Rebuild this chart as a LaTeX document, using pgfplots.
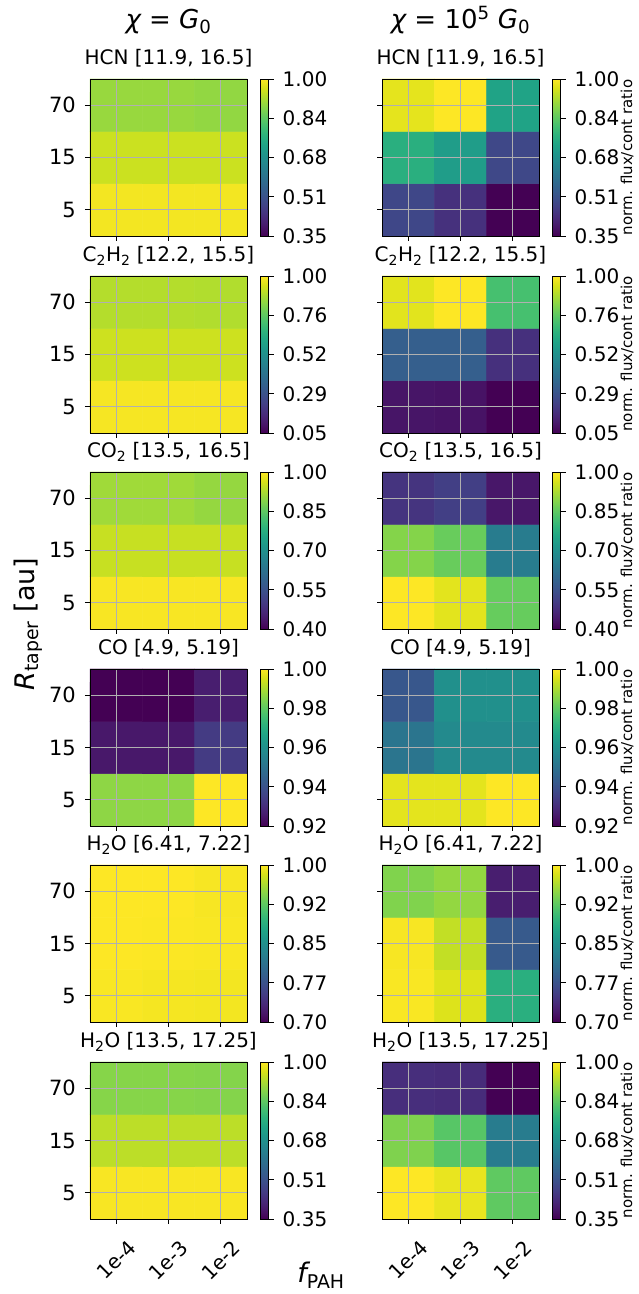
\documentclass[border=0pt]{standalone}
\usepackage{fontspec}
\setmainfont{DejaVu Sans}
\usepackage{pgfplots}
\pgfplotsset{compat=1.18}
\definecolor{gridgray}{HTML}{B0B0B0}
\newcommand{\fs}[1]{\fontsize{#1}{#1}\selectfont}
\pgfplotsset{
  hm/.style={
    scale only axis, width=157pt, height=157pt,
    anchor=north west,
    xmin=-0.5, xmax=2.5, ymin=-0.5, ymax=2.5,
    xtick={0,1,2}, ytick={0,1,2},
    xticklabels={}, yticklabels={},
    grid=major, grid style={gridgray, line width=0.9pt},
    axis on top,
    tick align=outside, xtick pos=bottom, ytick pos=left,
    major tick length=5pt,
    every tick/.style={black, line width=0.9pt},
    axis line style={line width=0.9pt},
    colormap/viridis,
    title style={at={(0.5,1)}, anchor=base, yshift=8pt, font=\fs{20}, inner sep=0pt},
    yticklabel style={font=\fs{21}, anchor=east, inner sep=0pt, xshift=-9pt},
    xticklabel style={font=\fs{20}, yshift=-36pt, rotate=45, anchor=center, inner sep=0pt},
    colorbar,
    colorbar style={
      width=8.5pt, at={(parent axis.north east)}, anchor=north west, xshift=4.5pt,
      tick align=outside, major tick length=5pt, ytick pos=right,
      every tick/.style={black, line width=0.9pt},
      yticklabel style={font=\fs{20}, anchor=west, inner sep=0pt, xshift=9pt},
      axis line style={line width=0.9pt},
    },
  },
  lft/.style={yticklabels={5,15,70}},
  bot/.style={xticklabels={1e-4,1e-3,1e-2}},
  rA/.style={point meta min=0.35, point meta max=1, colorbar style={ytick={0.35,0.5125,0.675,0.8375,1}, yticklabels={0.35,0.51,0.68,0.84,1.00}}},
  rB/.style={point meta min=0.05, point meta max=1, colorbar style={ytick={0.05,0.2875,0.525,0.7625,1}, yticklabels={0.05,0.29,0.52,0.76,1.00}}},
  rC/.style={point meta min=0.40, point meta max=1, colorbar style={ytick={0.40,0.55,0.70,0.85,1}, yticklabels={0.40,0.55,0.70,0.85,1.00}}},
  rD/.style={point meta min=0.92, point meta max=1, colorbar style={ytick={0.92,0.94,0.96,0.98,1}, yticklabels={0.92,0.94,0.96,0.98,1.00}}},
  rE/.style={point meta min=0.70, point meta max=1, colorbar style={ytick={0.70,0.775,0.85,0.925,1}, yticklabels={0.70,0.77,0.85,0.92,1.00}}},
}
\newcommand{\panel}[5]{%
\begin{axis}[hm, at={(#1pt,#2pt)}, title={#3}, #4]
\addplot[matrix plot*, mesh/cols=3, point meta=explicit] table[meta=c, row sep=\\] {#5};
\end{axis}}
\begin{document}
\begin{tikzpicture}
\useasboundingbox (0,0) rectangle (638pt,1294pt);
% row 1: HCN
\panel{90}{1215}{HCN [11.9, 16.5]}{lft, rA}{x y c\\ 0 0 0.99\\ 1 0 0.99\\ 2 0 0.99\\ 0 1 0.95\\ 1 1 0.95\\ 2 1 0.95\\ 0 2 0.90\\ 1 2 0.90\\ 2 2 0.895\\}
\panel{382}{1215}{HCN [11.9, 16.5]}{rA}{x y c\\ 0 0 0.487\\ 1 0 0.44\\ 2 0 0.35\\ 0 1 0.76\\ 1 1 0.71\\ 2 1 0.49\\ 0 2 0.975\\ 1 2 1.00\\ 2 2 0.727\\}
% row 2: C2H2
\panel{90}{1018}{C\textsubscript{2}H\textsubscript{2} [12.2, 15.5]}{lft, rB}{x y c\\ 0 0 0.99\\ 1 0 0.99\\ 2 0 0.99\\ 0 1 0.93\\ 1 1 0.93\\ 2 1 0.93\\ 0 2 0.895\\ 1 2 0.895\\ 2 2 0.89\\}
\panel{382}{1018}{C\textsubscript{2}H\textsubscript{2} [12.2, 15.5]}{rB}{x y c\\ 0 0 0.10\\ 1 0 0.095\\ 2 0 0.05\\ 0 1 0.335\\ 1 1 0.335\\ 2 1 0.18\\ 0 2 0.96\\ 1 2 1.00\\ 2 2 0.72\\}
% row 3: CO2
\panel{90}{822}{CO\textsubscript{2} [13.5, 16.5]}{lft, rC}{x y c\\ 0 0 0.995\\ 1 0 0.995\\ 2 0 0.995\\ 0 1 0.95\\ 1 1 0.95\\ 2 1 0.95\\ 0 2 0.915\\ 1 2 0.915\\ 2 2 0.905\\}
\panel{382}{822}{CO\textsubscript{2} [13.5, 16.5]}{rC}{x y c\\ 0 0 1.00\\ 1 0 0.975\\ 2 0 0.86\\ 0 1 0.89\\ 1 1 0.862\\ 2 1 0.65\\ 0 2 0.49\\ 1 2 0.51\\ 2 2 0.435\\}
% row 4: CO
\panel{90}{625}{CO [4.9, 5.19]}{lft, rD}{x y c\\ 0 0 0.9865\\ 1 0 0.9865\\ 2 0 1.00\\ 0 1 0.925\\ 1 1 0.925\\ 2 1 0.9336\\ 0 2 0.920\\ 1 2 0.920\\ 2 2 0.9265\\}
\panel{382}{625}{CO [4.9, 5.19]}{rD}{x y c\\ 0 0 0.9968\\ 1 0 0.9968\\ 2 0 1.00\\ 0 1 0.951\\ 1 1 0.958\\ 2 1 0.958\\ 0 2 0.9416\\ 1 2 0.960\\ 2 2 0.960\\}
% row 5: H2O short
\panel{90}{429}{H\textsubscript{2}O [6.41, 7.22]}{lft, rE}{x y c\\ 0 0 0.998\\ 1 0 0.996\\ 2 0 0.995\\ 0 1 1.00\\ 1 1 0.999\\ 2 1 0.998\\ 0 2 1.00\\ 1 2 1.00\\ 2 2 0.997\\}
\panel{382}{429}{H\textsubscript{2}O [6.41, 7.22]}{rE}{x y c\\ 0 0 0.998\\ 1 0 0.985\\ 2 0 0.889\\ 0 1 0.997\\ 1 1 0.973\\ 2 1 0.784\\ 0 2 0.943\\ 1 2 0.952\\ 2 2 0.724\\}
% row 6: H2O long
\panel{90}{232}{H\textsubscript{2}O [13.5, 17.25]}{lft, bot, rA}{x y c\\ 0 0 0.995\\ 1 0 0.995\\ 2 0 0.995\\ 0 1 0.935\\ 1 1 0.935\\ 2 1 0.935\\ 0 2 0.883\\ 1 2 0.883\\ 2 2 0.88\\}
\panel{382}{232}{H\textsubscript{2}O [13.5, 17.25]}{bot, rA}{x y c\\ 0 0 1.00\\ 1 0 0.98\\ 2 0 0.84\\ 0 1 0.875\\ 1 1 0.83\\ 2 1 0.62\\ 0 2 0.435\\ 1 2 0.43\\ 2 2 0.35\\}
% column titles
\node[anchor=base, font=\fs{26}] at (168.5pt,1265pt) {{\itshape χ} = {\itshape G}\textsubscript{0}};
\node[anchor=base, font=\fs{26}] at (460.5pt,1265pt) {{\itshape χ} = 10\textsuperscript{5} {\itshape G}\textsubscript{0}};
% colorbar labels
\foreach \yc in {1136.5,940,743.5,546.5,350.5,153.5}{
  \node[rotate=90, anchor=base, font=\fs{15}] at (632pt,\yc pt) {norm. flux/cont ratio};
}
% axis labels
\node[rotate=90, anchor=base, font=\fs{27}] at (34pt,670pt) {{\itshape R}\textsubscript{taper} [au]};
\node[anchor=base, font=\fs{27}] at (321pt,11pt) {{\itshape f}\textsubscript{PAH}};
\end{tikzpicture}
\end{document}
